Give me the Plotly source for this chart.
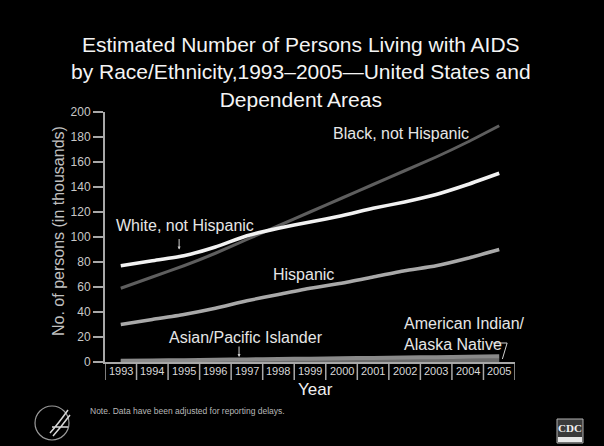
import plotly.graph_objects as go

# Persons living with AIDS (thousands), by race/ethnicity
years = [1993, 1994, 1995, 1996, 1997, 1998, 1999, 2000, 2001, 2002, 2003, 2004, 2005]
white = [77, 81, 85, 92, 101, 107, 112, 117, 123, 128, 134, 142, 151]
black = [59, 68, 77, 87, 98, 109, 120, 131, 142, 153, 164, 176, 189]
hispanic = [30, 34, 38, 43, 49, 54, 59, 63, 68, 73, 77, 83, 90]
asian_pi = [1.0, 1.2, 1.5, 1.8, 2.1, 2.4, 2.7, 3.0, 3.3, 3.6, 3.9, 4.2, 4.6]
am_indian = [0.4, 0.5, 0.6, 0.7, 0.8, 0.9, 1.0, 1.1, 1.2, 1.3, 1.4, 1.5, 1.6]
year_labels = [str(y) for y in years]
y_ticks = list(range(0, 201, 20))

FONT = "Liberation Sans, Arial, sans-serif"
AXIS_GREY = "#a8a8a8"

W, H = 604, 446
L, R, T, B = 105, 89, 112, 84
pw, ph = W - L - R, H - T - B


def px(x):
    return (x - L) / pw


def py(y):
    return (H - B - y) / ph


fig = go.Figure()

series = [
    (am_indian, "#6a6a6a", 4),
    (asian_pi, "#8a8a8a", 4),
    (hispanic, "#a9a9a9", 3.5),
    (black, "#5e5e5e", 3),
    (white, "#f2f2f2", 3.5),
]
for vals, col, w in series:
    fig.add_trace(go.Scatter(
        x=years, y=vals, mode="lines",
        line=dict(color=col, width=w, shape="spline", smoothing=0.5),
        hoverinfo="skip", showlegend=False,
    ))

# Separators between the boxed year labels
shapes = []
for k in range(len(years) + 1):
    xv = years[0] - 0.5 + k
    shapes.append(dict(type="line", xref="x", yref="paper", x0=xv, x1=xv,
                       y0=0, y1=-0.072, line=dict(color=AXIS_GREY, width=1.5)))

# bent leader from "Alaska Native" down to the 2005 value
shapes.append(dict(type="path", xref="x", yref="y",
                   path="M 2004.8,15.2 L 2005.25,15.2 L 2005.1,2.4",
                   line=dict(color="#d0d0d0", width=1)))

annotations = []
for y, lab in zip(years, year_labels):
    annotations.append(dict(x=y, y=-0.036, xref="x", yref="paper", text=lab,
                            showarrow=False, xanchor="center", yanchor="middle",
                            font=dict(family=FONT, size=11, color="#d8d8d8")))

label_font = dict(family=FONT, size=16, color="#e6e6e6")
annotations += [
    dict(x=2001.88, y=0.916, xref="x", yref="paper", text="Black, not Hispanic",
         showarrow=False, xanchor="center", yanchor="middle", font=label_font),
    dict(x=1995.04, y=0.548, xref="x", yref="paper", text="White, not Hispanic",
         showarrow=False, xanchor="center", yanchor="middle", font=label_font),
    dict(x=1998.78, y=0.352, xref="x", yref="paper", text="Hispanic",
         showarrow=False, xanchor="center", yanchor="middle", font=label_font),
    dict(x=1996.97, y=0.1, xref="x", yref="paper", text="Asian/Pacific Islander",
         showarrow=False, xanchor="center", yanchor="middle", font=label_font),
    dict(x=2001.92, y=0.112, xref="x", yref="paper", xanchor="left", yanchor="middle",
         text="American Indian/<br>Alaska Native", align="left",
         showarrow=False, font=label_font),
    # small arrows
    dict(x=1994.85, y=90, ax=0, ay=-12, xref="x", yref="y", text="",
         showarrow=True, arrowhead=2, arrowsize=0.6, arrowwidth=1, arrowcolor="#d0d0d0",
         standoff=0),
    dict(x=1996.75, y=4, ax=0, ay=-12, xref="x", yref="y", text="",
         showarrow=True, arrowhead=2, arrowsize=0.6, arrowwidth=1, arrowcolor="#d0d0d0",
         standoff=0),
    dict(text="Year", x=px(315), y=py(389), xref="paper", yref="paper", showarrow=False,
         xanchor="center", yanchor="middle",
         font=dict(family=FONT, size=17, color="#f0f0f0")),
    dict(text="No. of persons (in thousands)", x=px(58), y=py(231), xref="paper",
         yref="paper", textangle=-90, showarrow=False, xanchor="center", yanchor="middle",
         font=dict(family=FONT, size=16, color="#c0c0c0")),
    dict(text="Estimated Number of Persons Living with AIDS<br>"
              "by Race/Ethnicity,1993–2005—United States and<br>Dependent Areas",
         x=px(301), y=py(72), xref="paper", yref="paper", showarrow=False,
         xanchor="center", yanchor="middle", align="center",
         font=dict(family=FONT, size=21, color="#f4f4f4")),
    dict(text="Note. Data have been adjusted for reporting delays.", x=px(88), y=py(411),
         xref="paper", yref="paper", showarrow=False, xanchor="left", yanchor="middle",
         font=dict(family=FONT, size=8.5, color="#b8b8b8")),
]

# Agency marks in the footer
shapes.append(dict(type="circle", xref="paper", yref="paper",
                   x0=px(35), x1=px(69), y0=py(440), y1=py(406),
                   line=dict(color="#9a9a9a", width=1.2)))
shapes.append(dict(type="path", xref="paper", yref="paper",
                   path=f"M {px(50)},{py(433)} Q {px(58)},{py(424)} {px(68)},{py(410)} "
                        f"M {px(53)},{py(436)} Q {px(61)},{py(427)} {px(70)},{py(415)} "
                        f"M {px(52)},{py(427)} L {px(68)},{py(427)}",
                   line=dict(color="#d8d8d8", width=1.5)))
shapes.append(dict(type="rect", xref="paper", yref="paper",
                   x0=px(557), x1=px(583), y0=py(443), y1=py(419),
                   fillcolor="#3a3a3a", line=dict(color="#b0b0b0", width=1)))
shapes.append(dict(type="rect", xref="paper", yref="paper",
                   x0=px(558), x1=px(582), y0=py(442), y1=py(437),
                   fillcolor="#e8e8e8", line=dict(width=0)))
annotations.append(dict(text="<b>CDC</b>", x=px(570), y=py(428), xref="paper", yref="paper",
                        showarrow=False, xanchor="center", yanchor="middle",
                        font=dict(family="Liberation Serif, serif", size=11,
                                  color="#f0f0f0")))

fig.update_layout(
    width=W, height=H,
    paper_bgcolor="#000000", plot_bgcolor="#000000",
    margin=dict(l=L, r=R, t=T, b=B),
    xaxis=dict(range=[1992.5, 2005.5], showgrid=False, zeroline=False,
               showticklabels=False, ticks="", showline=True,
               linecolor=AXIS_GREY, linewidth=2, fixedrange=True),
    yaxis=dict(range=[0, 200], tickvals=y_ticks, showgrid=False, zeroline=False,
               ticks="outside", ticklen=10, tickwidth=1.5, tickcolor=AXIS_GREY,
               showline=True, linecolor=AXIS_GREY, linewidth=2,
               tickfont=dict(family=FONT, size=12, color="#c8c8c8")),
    shapes=shapes,
    annotations=annotations,
)

fig.write_html("out.html")
